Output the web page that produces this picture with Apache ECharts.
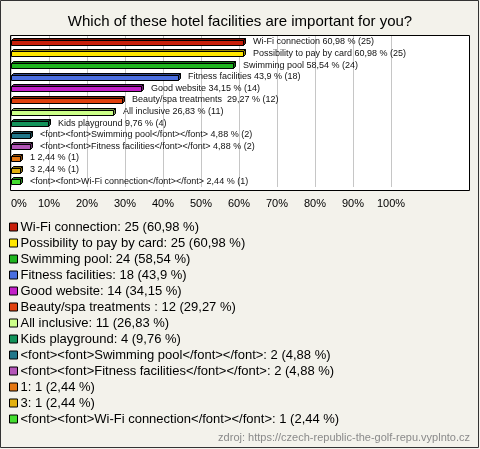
<!DOCTYPE html>
<html><head><meta charset="utf-8">
<script src="https://cdn.jsdelivr.net/npm/echarts@6/dist/echarts.min.js"></script>
<style>html,body{margin:0;padding:0;background:#f3f2eb}#c{width:480px;height:449px}</style>
</head><body><div id="c"></div>
<script>
const titleText = 'Which of these hotel facilities are important for you?';
const sourceText = 'zdroj: https://czech-republic-the-golf-repu.vyplnto.cz';
const categories = [
  'Wi-Fi connection',
  'Possibility to pay by card',
  'Swimming pool',
  'Fitness facilities',
  'Good website',
  'Beauty/spa treatments ',
  'All inclusive',
  'Kids playground',
  '<font><font>Swimming pool</font></font>',
  '<font><font>Fitness facilities</font></font>',
  '1',
  '3',
  '<font><font>Wi-Fi connection</font></font>'
];
const counts = [25, 25, 24, 18, 14, 12, 11, 4, 2, 2, 1, 1, 1];
const percents = [60.98, 60.98, 58.54, 43.9, 34.15, 29.27, 26.83, 9.76, 4.88, 4.88, 2.44, 2.44, 2.44];
const colors = ['#c8200c', '#ffe600', '#1fb51f', '#4a6ee0', '#c21fc8', '#e0400e', '#ccff88', '#12935a', '#21778a', '#b455b8', '#e47612', '#e2b00e', '#44de30'];
const xTicks = [0, 10, 20, 30, 40, 50, 60, 70, 80, 90, 100];

function fmt(p) { return String(p).replace('.', ','); }
function darken(hex, f) {
  const n = parseInt(hex.slice(1), 16);
  const r = Math.round(((n >> 16) & 255) * f), g = Math.round(((n >> 8) & 255) * f), b = Math.round((n & 255) * f);
  return 'rgb(' + r + ',' + g + ',' + b + ')';
}

const chart = echarts.init(document.getElementById('c'), null, {renderer: 'canvas'});

function renderBar(params, api) {
  const val = api.value(0);
  const ci = api.value(1);
  const p0 = api.coord([0, ci]);
  const p1 = api.coord([val, ci]);
  const color = colors[params.seriesIndex];
  const dark = darken(color, 0.6);
  const h = 5, d = 2;
  const x0 = Math.round(p0[0]) + 0.5;
  const x1 = Math.round(p1[0]) + 0.5;
  const yt = Math.round(p0[1] - 2) + 0.5;
  const yb = yt + h;
  const label = categories[ci] + ' ' + fmt(percents[ci]) + ' % (' + counts[ci] + ')';
  return {
    type: 'group',
    children: [
      {type: 'polygon', shape: {points: [[x0, yt], [x0 + d, yt - d], [x1 + d, yt - d], [x1, yt]]}, style: {fill: dark, stroke: '#000', lineWidth: 1}},
      {type: 'polygon', shape: {points: [[x1, yt], [x1 + d, yt - d], [x1 + d, yb - d], [x1, yb]]}, style: {fill: dark, stroke: '#000', lineWidth: 1}},
      {type: 'rect', shape: {x: x0, y: yt, width: x1 - x0, height: h}, style: {fill: color, stroke: '#000', lineWidth: 1}},
      {type: 'text', style: {text: label, x: Math.round(p1[0]) + 10, y: p0[1], verticalAlign: 'middle', font: '9px "Liberation Sans", Arial, sans-serif', fill: '#111'}}
    ]
  };
}

const series = categories.map((name, i) => ({
  name: name,
  type: 'custom',
  renderItem: renderBar,
  clip: false,
  itemStyle: {color: colors[i]},
  encode: {x: 0, y: 1},
  data: [[percents[i], i]]
}));

chart.setOption({
  animation: false,
  backgroundColor: '#f3f2eb',
  title: {
    text: titleText, left: 'center', top: 9,
    textStyle: {fontFamily: '"Liberation Sans", Arial, sans-serif', fontSize: 15, fontWeight: 'normal', color: '#000'}
  },
  graphic: [
    {type: 'rect', z: -10, shape: {x: 0.5, y: 0.5, width: 478, height: 447}, style: {fill: '#f3f2eb', stroke: '#333', lineWidth: 1}},
    {type: 'rect', z: -9, shape: {x: 10.5, y: 35.5, width: 459, height: 155}, style: {fill: '#fff', stroke: null}},
    {type: 'rect', z: 100, shape: {x: 10.5, y: 35.5, width: 459, height: 155}, style: {fill: 'none', stroke: '#000', lineWidth: 1}},
    {type: 'text', right: 10, top: 432, style: {text: sourceText, font: '11px "Liberation Sans", Arial, sans-serif', fill: '#8a8a8a'}}
  ],
  grid: {left: 11, top: 36, width: 380, height: 151, containLabel: false},
  xAxis: {
    type: 'value', min: 0, max: 100, interval: 10,
    axisLine: {show: false}, axisTick: {show: false},
    splitLine: {show: true, lineStyle: {color: '#c6c6c6', width: 1}},
    axisLabel: {
      margin: 11, color: '#000', fontSize: 11, fontFamily: '"Liberation Sans", Arial, sans-serif',
      alignMinLabel: 'left', showMinLabel: true, showMaxLabel: true,
      formatter: v => (xTicks.indexOf(v) >= 0 ? v + '%' : '')
    }
  },
  yAxis: {
    type: 'category', data: categories.map((c, i) => i), inverse: true,
    axisLine: {show: false}, axisTick: {show: false}, axisLabel: {show: false}, splitLine: {show: false}
  },
  legend: {
    orient: 'vertical', left: 4, top: 214,
    itemWidth: 8, itemHeight: 8, itemGap: 0,
    icon: 'rect',
    itemStyle: {borderColor: '#000', borderWidth: 1},
    selectedMode: false,
    textStyle: {fontFamily: '"Liberation Sans", Arial, sans-serif', fontSize: 13, color: '#000', lineHeight: 16, padding: [0, 0, 0, -2]},
    formatter: name => {
      const i = categories.indexOf(name);
      return name + ': ' + counts[i] + ' (' + fmt(percents[i]) + ' %)';
    },
    data: categories
  },
  series: series
});
</script></body></html>
